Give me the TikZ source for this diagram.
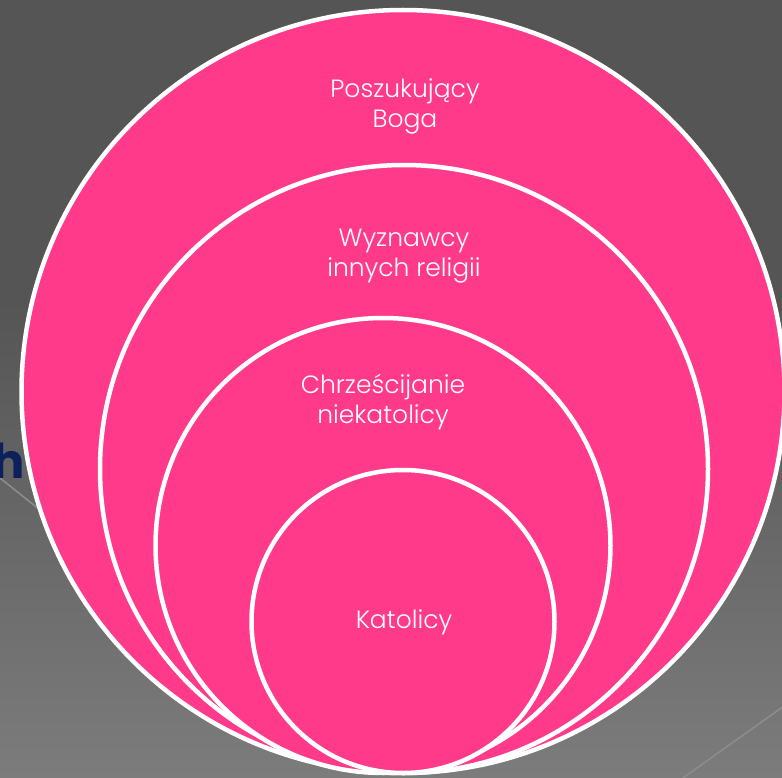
\documentclass[tikz,border=0pt]{standalone}
\usepackage{fontspec}
\setmainfont{Poppins Light}
\newfontfamily\titlefont{Poppins Bold}
\begin{document}
\begin{tikzpicture}[x=1pt,y=-1pt,
  ring/.style={draw=white,line width=4.5pt,fill=ringpink},
  lbl/.style={text=white,align=center,font=\fontsize{25}{30}\selectfont},
  bgline/.style={draw=bglinecol,line width=1.6pt}]
\definecolor{ringpink}{RGB}{255,58,138}
\definecolor{bgtop}{RGB}{85,85,85}
\definecolor{bgbot}{RGB}{124,124,124}
\definecolor{bglinecol}{RGB}{140,140,140}
\definecolor{navy}{RGB}{12,32,92}
\useasboundingbox (0,0) rectangle (782,778);
\begin{scope}
\clip (0,0) rectangle (782,778);
\fill[bgtop] (0,0) rectangle (782,778);
\shade[top color=bgtop,bottom color=bgbot] (0,300) rectangle (782,778);
\draw[bgline] (0,478) -- (60,526);
\draw[bgline] (680,780) -- (784,706);
\node[anchor=base east,inner sep=0pt,text=navy,font=\titlefont\fontsize{48}{48}\selectfont] (h) at (25,478) {h};
\path[ring] (403,391.5) circle[radius=381.5];
\path[ring] (404,469) circle[radius=304];
\path[ring] (383,545.5) circle[radius=227.5];
\path[ring] (403,621.5) circle[radius=151.5];
\end{scope}
\node[lbl] (t1) at (405,106) {Poszukujący\\Boga};
\node[lbl] (t2) at (404,256) {Wyznawcy\\innych religii};
\node[lbl] (t3) at (383,402) {Chrześcijanie\\niekatolicy};
\node[lbl] (t4) at (404,622) {Katolicy};
\end{tikzpicture}
\end{document}
